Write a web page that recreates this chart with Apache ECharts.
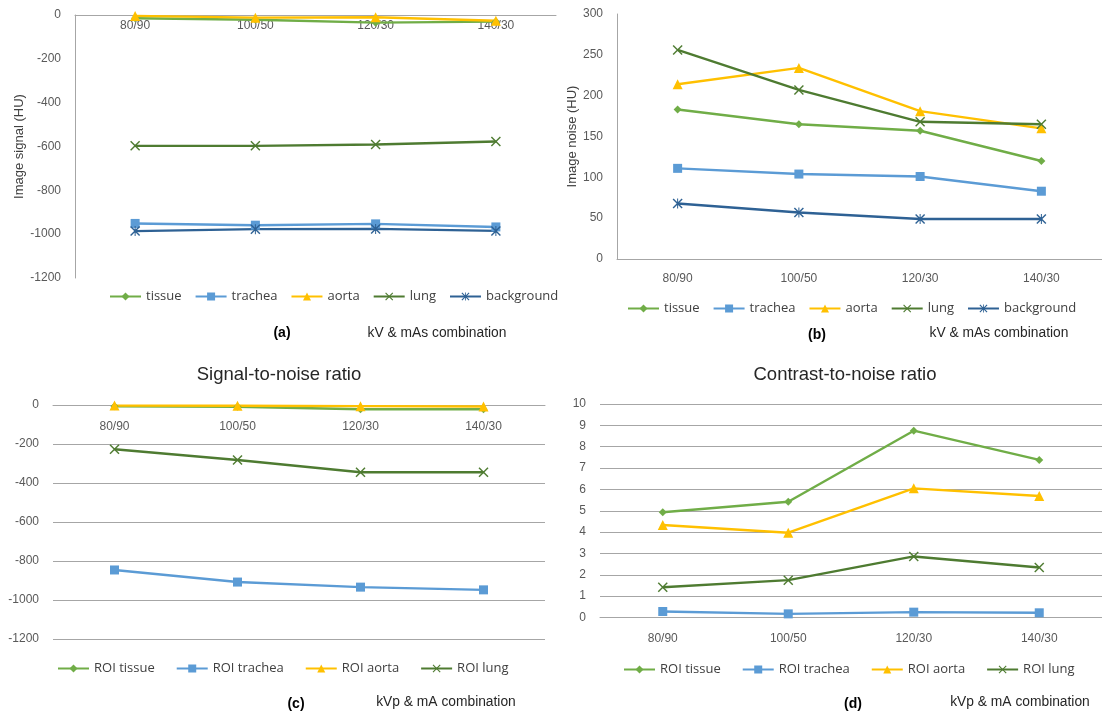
<!DOCTYPE html>
<html>
<head>
<meta charset="utf-8">
<script src="https://cdn.jsdelivr.net/npm/echarts@6/dist/echarts.min.js"></script>
<style>
  html, body { margin: 0; padding: 0; background: #fff; }
  #main { width: 1102px; height: 715px; }
</style>
</head>
<body>
<div id="main"></div>
<script>
// categories shared by all four panels
const categories = ['80/90', '100/50', '120/30', '140/30']

// (a) image signal (HU)
const signalTissue = [-15, -22, -35, -30]
const signalTrachea = [-951, -959, -953, -967]
const signalAorta = [-4, -12, -10, -26]
const signalLung = [-597, -597, -591, -577]
const signalBackground = [-986, -977, -976, -985]

// (b) image noise (HU)
const noiseTissue = [183, 165, 157, 120]
const noiseTrachea = [111, 104, 101, 83]
const noiseAorta = [214, 234, 181, 160]
const noiseLung = [256, 207, 168, 165]
const noiseBackground = [68, 57, 49, 49]

// (c) signal-to-noise ratio
const snrTissue = [-7, -9, -22, -22]
const snrTrachea = [-846, -908, -934, -948]
const snrAorta = [-3, -4, -6, -8]
const snrLung = [-227, -282, -345, -345]

// (d) contrast-to-noise ratio
const cnrTissue = [4.93, 5.42, 8.75, 7.38]
const cnrTrachea = [0.28, 0.17, 0.25, 0.22]
const cnrAorta = [4.33, 3.97, 6.05, 5.69]
const cnrLung = [1.42, 1.75, 2.86, 2.34]

const C = {
  tissue: '#70AD47',
  trachea: '#5B9BD5',
  aorta: '#FFC000',
  lung: '#4E7B31',
  background: '#2E6194'
}

const crossPath = 'path://M1,0 L5,4 L9,0 L10,1 L6,5 L10,9 L9,10 L5,6 L1,10 L0,9 L4,5 L0,1 Z'
const starPath = crossPath + ' M4.5,0 L5.5,0 L5.5,10 L4.5,10 Z'

const SYM = {
  tissue: ['diamond', 8],
  trachea: ['rect', 9],
  aorta: ['triangle', 10],
  lung: [crossPath, 10],
  background: [starPath, 10]
}

const axisFont = { fontFamily: 'Liberation Sans', fontSize: 12, color: '#595959' }
const gray = '#A6A6A6'

function mk(name, key, data, idx) {
  return {
    name: name,
    type: 'line',
    data: data,
    xAxisIndex: idx,
    yAxisIndex: idx,
    symbol: SYM[key][0],
    symbolSize: SYM[key][1],
    showSymbol: true,
    color: C[key],
    lineStyle: { width: 2.4, color: C[key] },
    itemStyle: { color: C[key] },
    animation: false
  }
}

// top: axis sits on the zero line at the top of the plot, labels hang below it
function xAx(idx, top, margin) {
  return {
    type: 'category',
    gridIndex: idx,
    data: categories,
    position: top ? 'top' : 'bottom',
    axisLine: { show: true, onZero: false, lineStyle: { color: gray, width: 1 } },
    axisTick: { show: false },
    axisLabel: Object.assign({ margin: margin, inside: !!top }, axisFont),
    splitLine: { show: false }
  }
}

function yAx(idx, min, max, interval, opts) {
  return Object.assign({
    type: 'value',
    gridIndex: idx,
    min: min,
    max: max,
    interval: interval,
    axisTick: { show: false },
    axisLabel: Object.assign({ margin: 14, formatter: v => String(v) }, axisFont),
    axisLine: { show: false },
    splitLine: { show: false }
  }, opts || {})
}

function leg(names, left, top, gap) {
  return {
    data: names,
    left: left,
    top: top,
    orient: 'horizontal',
    padding: 0,
    itemGap: gap,
    itemWidth: 31,
    itemHeight: 10,
    textStyle: { fontFamily: 'Open Sans', fontSize: 13, color: '#404040' },
    selectedMode: false
  }
}

function txt(text, x, y, size, bold) {
  return {
    type: 'text',
    x: x,
    y: y,
    style: {
      text: text,
      fontFamily: 'Liberation Sans',
      fontSize: size,
      fontWeight: bold ? 'bold' : 'normal',
      fill: bold ? '#000' : '#262626',
      textAlign: 'center',
      textVerticalAlign: 'middle'
    }
  }
}

const namesA = ['tissue', 'trachea', 'aorta', 'lung', 'background']
const namesC = ['ROI tissue', 'ROI trachea', 'ROI aorta', 'ROI lung']
const nameFont = { fontFamily: 'Liberation Sans', fontSize: 13, color: '#404040' }

const chart = echarts.init(document.getElementById('main'))

const option = {
  backgroundColor: '#fff',
  animation: false,
  grid: [
    { left: 75, top: 15, width: 481, height: 263 },
    { left: 617, top: 14, width: 491, height: 245 },
    { left: 53, top: 405, width: 492, height: 234 },
    { left: 600, top: 404, width: 509, height: 213.5 }
  ],
  xAxis: [xAx(0, true, 5), xAx(1, false, 14), xAx(2, true, 16), xAx(3, false, 15)],
  yAxis: [
    yAx(0, -1200, 0, 200, {
      axisLine: { show: true, lineStyle: { color: gray } },
      name: 'Image signal (HU)', nameLocation: 'middle', nameGap: 44,
      nameTextStyle: nameFont
    }),
    yAx(1, 0, 300, 50, {
      axisLine: { show: true, lineStyle: { color: gray } },
      name: 'Image noise (HU)', nameLocation: 'middle', nameGap: 38,
      nameTextStyle: nameFont
    }),
    yAx(2, -1200, 0, 200, { splitLine: { show: true, lineStyle: { color: gray } } }),
    yAx(3, 0, 10, 1, { splitLine: { show: true, lineStyle: { color: gray } } })
  ],
  legend: [
    leg(namesA, 109, 290, 13),
    leg(namesA, 627, 302, 13),
    leg(namesC, 57, 662, 21),
    leg(namesC, 623, 663, 21)
  ],
  graphic: [
    txt('Signal-to-noise ratio', 279, 375, 18.5, false),
    txt('Contrast-to-noise ratio', 845, 375, 18.5, false),
    txt('(a)', 282, 333, 14, true),
    txt('kV & mAs combination', 437, 333, 13.8, false),
    txt('(b)', 817, 335, 14, true),
    txt('kV & mAs combination', 999, 333, 13.8, false),
    txt('(c)', 296, 704, 14, true),
    txt('kVp & mA combination', 446, 702, 13.8, false),
    txt('(d)', 853, 704, 14, true),
    txt('kVp & mA combination', 1020, 702, 13.8, false)
  ],
  series: [
    mk('tissue', 'tissue', signalTissue, 0),
    mk('trachea', 'trachea', signalTrachea, 0),
    mk('aorta', 'aorta', signalAorta, 0),
    mk('lung', 'lung', signalLung, 0),
    mk('background', 'background', signalBackground, 0),

    mk('tissue', 'tissue', noiseTissue, 1),
    mk('trachea', 'trachea', noiseTrachea, 1),
    mk('aorta', 'aorta', noiseAorta, 1),
    mk('lung', 'lung', noiseLung, 1),
    mk('background', 'background', noiseBackground, 1),

    mk('ROI tissue', 'tissue', snrTissue, 2),
    mk('ROI trachea', 'trachea', snrTrachea, 2),
    mk('ROI aorta', 'aorta', snrAorta, 2),
    mk('ROI lung', 'lung', snrLung, 2),

    mk('ROI tissue', 'tissue', cnrTissue, 3),
    mk('ROI trachea', 'trachea', cnrTrachea, 3),
    mk('ROI aorta', 'aorta', cnrAorta, 3),
    mk('ROI lung', 'lung', cnrLung, 3)
  ]
}

chart.setOption(option)
</script>
</body>
</html>
